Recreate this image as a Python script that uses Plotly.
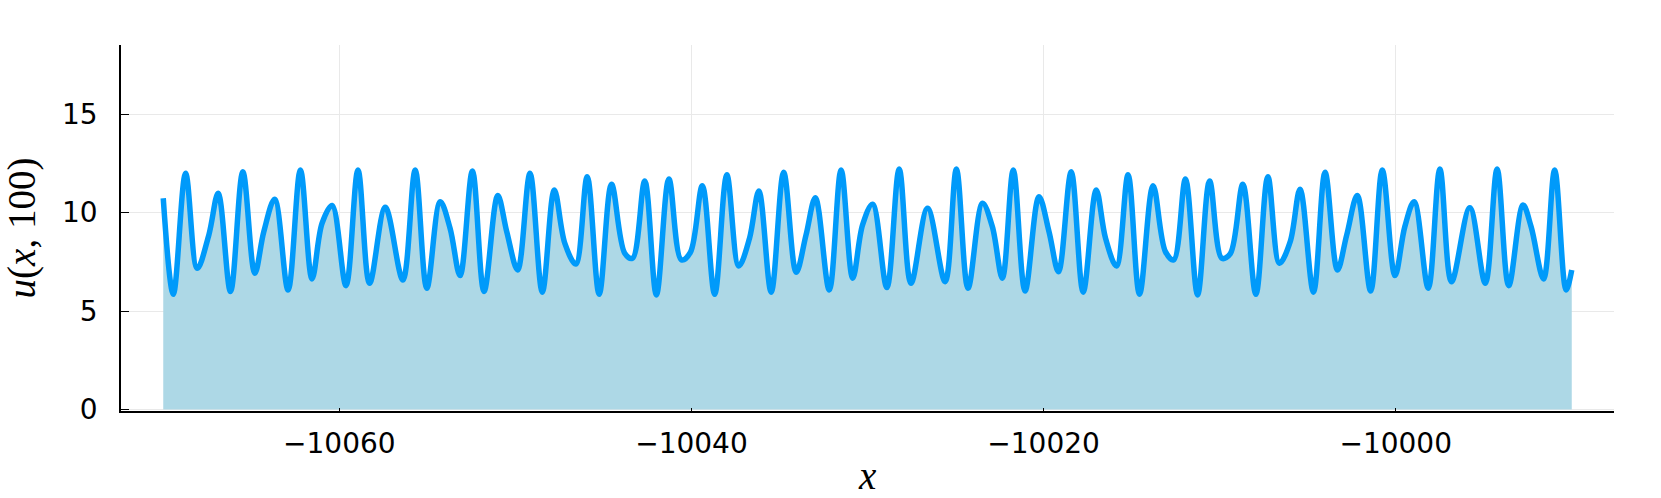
import plotly.graph_objects as go

# Curve samples (x, u(x,100)): peaks, troughs and shoulders
x_pts = [
    -10070.00, -10069.43, -10068.73, -10068.07, -10067.41, -10066.88, -10066.18, -10065.48,
    -10064.80, -10064.29, -10063.67, -10062.91, -10062.21, -10061.55, -10060.98, -10060.41,
    -10059.62, -10058.94, -10058.28, -10057.39, -10056.39, -10055.69, -10055.03, -10054.27,
    -10053.71, -10053.14, -10052.44, -10051.78, -10051.00, -10050.49, -10049.87, -10049.17,
    -10048.47, -10047.79, -10047.19, -10046.57, -10045.92, -10045.24, -10044.54, -10043.79,
    -10043.35, -10042.65, -10041.99, -10041.28, -10040.57, -10040.06, -10039.38, -10038.68,
    -10037.99, -10037.31, -10036.70, -10036.17, -10035.47, -10034.76, -10034.05, -10033.49,
    -10032.96, -10032.17, -10031.50, -10030.84, -10030.28, -10029.71, -10028.90, -10028.20,
    -10027.53, -10026.59, -10025.59, -10024.95, -10024.29, -10023.47, -10022.91, -10022.34,
    -10021.72, -10021.05, -10020.26, -10019.69, -10019.15, -10018.43, -10017.75, -10017.01,
    -10016.48, -10015.86, -10015.20, -10014.55, -10013.78, -10013.08, -10012.61, -10011.94,
    -10011.25, -10010.57, -10009.87, -10009.39, -10008.68, -10007.94, -10007.26, -10006.60,
    -10005.99, -10005.43, -10004.67, -10004.01, -10003.31, -10002.78, -10002.18, -10001.42,
    -10000.76, -10000.04, -9999.48, -9998.95, -9998.15, -9997.49, -9996.83, -9995.79,
    -9994.91, -9994.24, -9993.58, -9992.77, -9992.31, -9991.60, -9990.97, -9990.32,
    -9990.00,
]
u_pts = [
    10.73, 5.85, 12.00, 7.17, 8.87, 10.98, 5.99, 12.08,
    6.92, 9.03, 10.68, 6.07, 12.17, 6.63, 9.46, 10.36,
    6.29, 12.17, 6.41, 10.27, 6.58, 12.17, 6.16, 10.56,
    9.21, 6.80, 12.12, 5.99, 10.87, 9.03, 7.09, 12.00,
    5.96, 11.15, 8.44, 7.39, 11.83, 5.85, 11.44, 7.94,
    7.68, 11.61, 5.82, 11.71, 7.60, 7.98, 11.37, 5.85,
    11.92, 7.29, 8.70, 11.10, 5.96, 12.05, 6.97, 8.87,
    10.76, 6.07, 12.17, 6.67, 9.38, 10.43, 6.19, 12.22,
    6.41, 10.22, 6.49, 12.22, 6.16, 10.48, 9.29, 6.67,
    12.17, 6.02, 10.81, 9.03, 7.00, 12.08, 5.96, 11.15,
    8.70, 7.29, 11.92, 5.85, 11.37, 8.02, 7.60, 11.71,
    5.82, 11.61, 7.68, 7.92, 11.44, 5.85, 11.83, 7.43,
    8.53, 11.19, 5.96, 12.05, 7.09, 8.87, 10.87, 6.02,
    12.17, 6.80, 9.29, 10.56, 6.16, 12.22, 6.49, 10.25,
    6.41, 12.22, 6.29, 10.39, 9.29, 6.63, 12.17, 6.07,
    7.09,
]

x_ticks = [-10060, -10040, -10020, -10000]
x_tick_labels = ["\u221210060", "\u221210040", "\u221210020", "\u221210000"]
y_ticks = [0, 5, 10, 15]
y_tick_labels = ["0", "5", "10", "15"]

fig = go.Figure()
fig.add_trace(go.Scatter(
    x=x_pts, y=u_pts, mode="lines",
    line=dict(color="#009AFA", width=5.5, shape="spline", smoothing=1.0),
    fill="tozeroy", fillcolor="#ADD8E6",
    showlegend=False, hoverinfo="skip",
))

tick_font = dict(family="DejaVu Sans", size=28, color="black")
label_font = dict(family="Liberation Serif", size=39, color="black")

fig.update_layout(
    width=1661, height=498,
    margin=dict(l=121, r=47, t=45, b=87),
    paper_bgcolor="white", plot_bgcolor="white",
    xaxis=dict(
        range=[-10072.4, -9987.6],
        tickmode="array", tickvals=x_ticks, ticktext=x_tick_labels,
        ticks="inside", ticklen=3, tickwidth=1, tickcolor="black",
        showline=True, linecolor="black", linewidth=1.5, mirror=False,
        showgrid=True, gridcolor="#e9e9e9", gridwidth=1, zeroline=False,
        tickfont=tick_font, ticklabelstandoff=7, automargin=False,
    ),
    yaxis=dict(
        range=[-0.08, 18.52],
        tickmode="array", tickvals=y_ticks, ticktext=y_tick_labels,
        ticks="inside", ticklen=8, tickwidth=1, tickcolor="black",
        showline=True, linecolor="black", linewidth=1.5, mirror=False,
        showgrid=True, gridcolor="#e9e9e9", gridwidth=1, zeroline=False,
        tickfont=tick_font, ticklabelstandoff=16, automargin=False,
        title=dict(text="<i>u</i>(<i>x</i>, 100)", font=label_font, standoff=20),
    ),
    annotations=[dict(
        text="<i>x</i>", font=label_font, showarrow=False,
        xref="paper", yref="paper", x=0.5, y=-0.176,
        xanchor="center", yanchor="middle",
    )],
)

fig.write_html("out.html", config={"displayModeBar": False},
               post_script="document.body.style.margin='0';")
